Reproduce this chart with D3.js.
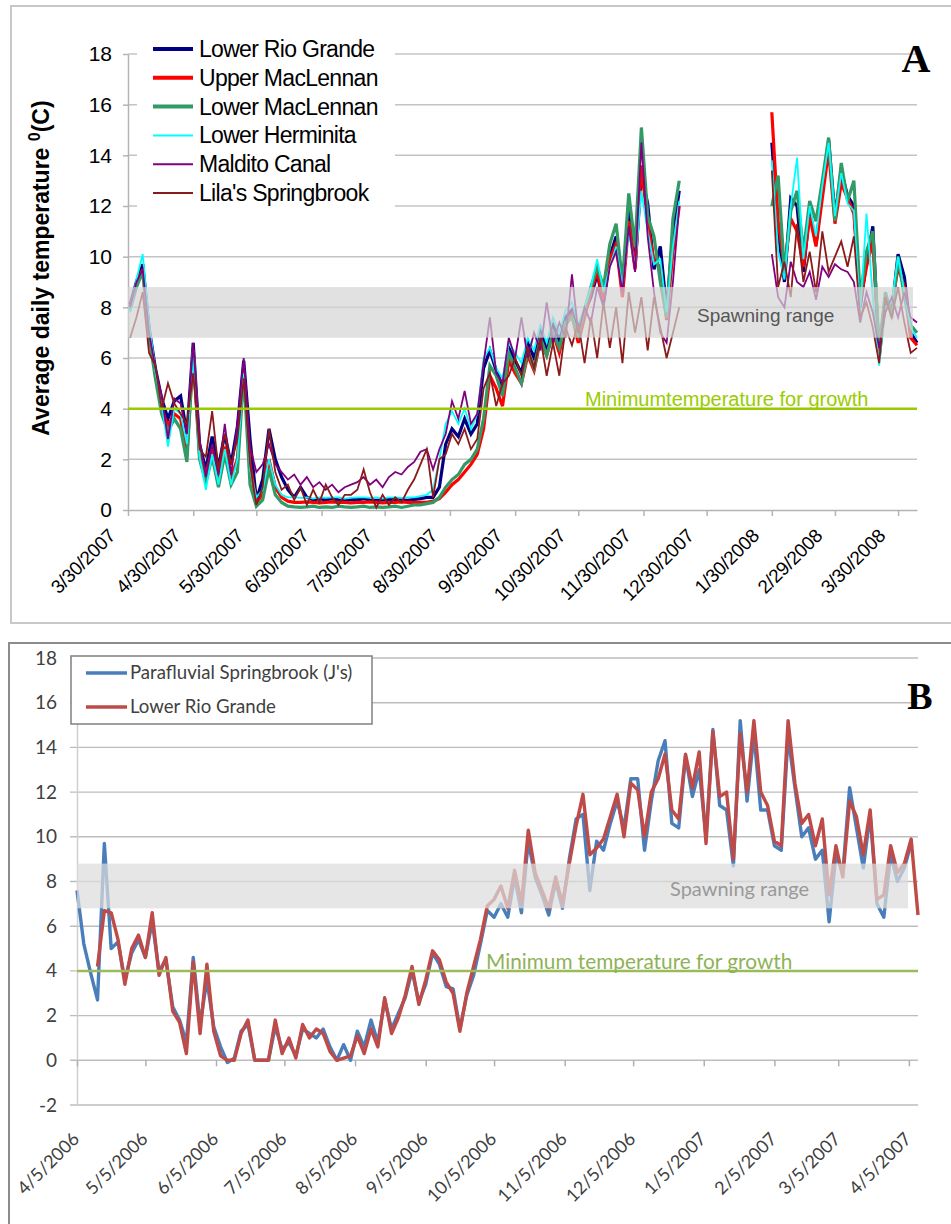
<!DOCTYPE html>
<html>
<head>
<meta charset="utf-8">
<script src="https://cdn.jsdelivr.net/npm/d3@7"></script>
<style>
  body { margin: 0; background: #fff; }
  svg { display: block; }
</style>
</head>
<body>
<svg id="chart" width="951" height="1224"></svg>
<script>
// ---- Panel A data (daily means sampled every 3 days) ----
const xLabelsA = ["3/30/2007","4/30/2007","5/30/2007","6/30/2007","7/30/2007","8/30/2007","9/30/2007",
                  "10/30/2007","11/30/2007","12/30/2007","1/30/2008","2/29/2008","3/30/2008"];
const yTicksA = [0, 2, 4, 6, 8, 10, 12, 14, 16, 18];
const namesA = ["Lower Rio Grande","Upper MacLennan","Lower MacLennan","Lower Herminita","Maldito Canal","Lila's Springbrook"];
const firstDayA1 = "3/31/2007", firstDayA2 = "1/30/2008", stepA = 3;

const lowerRioGrande1 = [8.1,9.0,9.7,7.2,5.6,4.4,3.6,4.3,4.5,3.0,
  6.6,2.6,1.6,2.9,1.7,3.0,1.8,3.3,5.9,2.8,
  0.4,1.2,3.2,2.0,1.3,0.8,0.5,0.9,0.5,0.4,
  0.45,0.4,0.45,0.4,0.38,0.42,0.4,0.45,0.4,0.38,
  0.4,0.42,0.4,0.4,0.38,0.42,0.45,0.5,0.5,0.9,
  2.6,3.2,2.9,3.6,3.0,3.4,5.6,6.3,5.5,4.9,
  6.4,5.9,5.4,6.6,6.0,7.1,6.4,7.3,6.7,7.6,
  7.9,7.0,7.8,8.4,9.3,8.2,10.0,10.8,8.6,11.8,
  9.6,13.2,12.1,9.5,10.4,7.9,10.9,12.6];
const lowerRioGrande2 = [14.5,11.0,9.0,12.3,12.0,9.4,11.8,10.5,12.6,14.6,11.6,13.4,12.4,12.0,8.0,9.8,11.2,6.0,8.3,7.8,10.1,9.2,7.0,6.6];

const upperMacLennan1 = [8.0,8.9,9.5,7.0,5.4,4.0,3.3,3.8,3.6,2.2,
  6.2,2.2,1.4,2.4,1.3,2.5,1.3,2.0,5.5,1.8,
  0.3,0.6,2.0,0.9,0.5,0.35,0.3,0.3,0.32,0.3,
  0.28,0.3,0.32,0.3,0.3,0.28,0.3,0.3,0.32,0.3,
  0.28,0.3,0.3,0.32,0.3,0.3,0.3,0.3,0.35,0.45,
  0.7,1.0,1.2,1.5,1.8,2.2,3.2,5.3,4.8,4.1,
  5.9,5.4,5.0,6.1,5.5,6.7,6.1,7.0,6.2,7.3,
  7.7,6.6,7.6,8.6,9.4,8.3,9.9,10.5,8.4,11.4,
  9.5,13.6,11.3,9.8,9.6,7.5,10.2,12.0];
const upperMacLennan2 = [15.7,11.4,9.6,11.5,11.0,9.6,11.6,10.4,12.3,14.2,11.3,12.9,12.3,11.7,8.2,9.6,10.6,6.2,8.4,8.0,9.6,8.8,6.8,6.5];

const lowerMacLennan1 = [7.9,8.8,9.4,6.9,5.2,3.8,3.1,3.6,3.2,1.9,
  6.3,2.0,1.1,2.1,0.9,2.2,1.0,1.5,5.4,1.0,
  0.15,0.4,1.6,0.6,0.3,0.15,0.12,0.1,0.12,0.15,
  0.1,0.12,0.1,0.15,0.12,0.1,0.12,0.15,0.1,0.12,
  0.1,0.12,0.15,0.1,0.15,0.2,0.2,0.25,0.3,0.5,
  0.9,1.2,1.4,1.8,2.0,2.4,3.6,5.7,5.3,4.5,
  6.2,5.6,5.0,6.3,5.6,6.8,6.1,7.0,6.4,7.4,
  7.6,6.9,7.9,8.8,9.6,8.8,10.5,11.3,9.0,12.5,
  10.4,15.1,11.6,10.8,9.0,7.6,11.5,13.0];
const lowerMacLennan2 = [12.0,13.2,9.4,11.8,12.6,10.2,12.2,11.4,13.0,14.7,11.4,13.7,12.2,13.0,8.4,10.2,11.0,6.4,8.6,7.6,10.0,8.4,7.3,7.0];

const lowerHerminita1 = [7.8,9.1,10.1,7.4,5.5,4.2,2.5,4.0,3.8,2.6,
  6.0,2.1,0.8,2.2,1.0,2.4,1.0,2.0,5.4,1.6,
  0.5,0.8,2.0,1.0,0.6,0.5,0.5,0.48,0.5,0.45,
  0.5,0.48,0.5,0.5,0.45,0.48,0.5,0.5,0.48,0.5,
  0.45,0.5,0.5,0.48,0.5,0.5,0.55,0.6,0.8,2.0,
  3.4,3.9,3.4,4.0,3.2,3.8,6.0,6.4,5.6,5.2,
  6.6,6.2,5.8,6.8,6.3,7.3,6.6,7.6,7.0,7.9,
  8.2,7.3,8.0,8.8,9.9,8.6,9.6,10.4,8.8,11.0,
  9.6,12.6,11.0,9.7,9.9,7.8,10.4,12.2];
const lowerHerminita2 = [13.8,10.2,9.1,12.0,13.9,9.9,12.0,10.8,12.8,14.5,11.6,13.3,12.1,11.8,7.8,11.7,8.4,5.7,8.0,8.2,10.0,8.6,7.2,6.8];

const malditoCanal1 = [8.0,9.0,9.5,7.0,5.6,4.5,2.8,4.4,4.2,3.0,
  6.6,2.8,1.3,2.6,1.4,3.4,1.4,3.4,6.0,2.5,
  1.5,1.8,2.6,1.8,1.5,1.2,1.4,1.0,1.3,0.9,
  1.1,0.8,1.0,0.7,0.9,1.0,1.1,1.3,1.0,1.2,
  0.9,1.3,1.5,1.4,1.7,1.9,2.3,2.4,1.6,2.4,
  3.0,4.3,3.6,4.7,3.4,3.8,5.8,7.6,5.4,5.0,
  6.8,6.0,7.6,6.0,7.0,6.3,8.2,6.6,7.4,6.8,
  9.3,7.0,8.0,7.4,8.8,8.0,9.6,10.2,8.6,11.2,
  9.4,14.5,10.8,8.6,7.0,6.6,9.0,12.0];
const malditoCanal2 = [10.1,8.4,8.0,9.8,9.0,8.8,9.4,8.3,9.6,9.2,9.7,9.5,9.4,9.0,7.4,8.6,7.8,6.4,7.8,8.4,7.6,8.6,7.6,7.4];

const lilasSpringbrook1 = [6.8,7.6,8.6,6.2,5.7,4.0,5.0,4.2,3.8,3.4,
  5.4,2.4,2.1,3.9,1.6,3.0,1.8,2.8,5.2,1.8,
  0.2,0.9,3.2,1.5,0.8,1.0,0.4,0.9,0.2,0.8,
  0.3,1.0,0.5,0.2,0.6,0.6,0.8,1.6,0.7,0.1,
  0.6,0.2,0.5,0.3,0.8,1.2,1.8,2.4,0.5,2.0,
  2.2,3.0,2.6,3.2,2.4,2.8,4.8,5.4,4.1,5.0,
  5.3,6.0,5.3,6.4,5.6,6.8,5.3,6.6,5.3,7.2,
  6.5,7.4,5.8,7.6,6.0,8.2,6.4,8.0,5.8,8.6,
  7.0,8.4,6.3,8.4,7.2,6.0,7.0,8.0];
const lilasSpringbrook2 = [13.4,8.8,9.8,8.4,11.3,9.0,10.2,8.6,11.0,9.4,10.0,10.6,9.6,10.8,7.6,8.2,7.2,5.8,8.4,7.6,8.8,7.4,6.2,6.4];

// ---- Panel B data (every 3 days from 4/5/2006) ----
const xLabelsB = ["4/5/2006","5/5/2006","6/5/2006","7/5/2006","8/5/2006","9/5/2006","10/5/2006",
                  "11/5/2006","12/5/2006","1/5/2007","2/5/2007","3/5/2007","4/5/2007"];
const yTicksB = [-2, 0, 2, 4, 6, 8, 10, 12, 14, 16, 18];
const namesB = ["Parafluvial Springbrook (J's)", "Lower Rio Grande"];
const firstDayB = "4/5/2006", stepB = 3;

const parafluvial = [7.6,5.2,3.9,2.7,9.7,5.0,5.3,3.6,4.8,5.4,
  4.6,6.2,4.0,4.5,2.4,1.8,0.8,4.6,1.6,3.6,
  1.5,0.6,-0.1,0.1,1.3,1.6,0.0,0.0,0.0,1.5,
  0.5,0.8,0.2,1.4,1.2,1.0,1.4,0.6,0.0,0.7,
  0.0,1.3,0.6,1.8,0.8,2.7,1.4,2.1,2.8,4.0,
  2.6,3.4,4.8,4.3,3.3,3.2,1.4,2.9,3.8,5.2,
  6.7,6.4,7.0,6.4,8.2,6.6,9.8,8.2,7.4,6.5,
  8.0,6.8,9.0,10.8,11.0,7.6,9.8,9.4,10.6,11.6,
  10.4,12.6,12.6,9.4,11.6,13.4,14.3,10.6,10.4,13.6,
  11.8,13.0,10.0,14.8,11.4,11.2,8.7,15.2,11.6,14.6,
  11.2,11.2,9.6,9.4,14.5,12.2,10.0,10.4,9.0,9.4,
  6.2,9.2,8.4,12.2,10.4,8.6,11.0,7.0,6.4,9.2,
  8.0,8.6,9.7,null];
const rioGrandeB = [null,null,null,4.2,6.7,6.6,5.4,3.4,5.0,5.6,
  4.6,6.6,3.8,4.6,2.2,1.7,0.3,4.4,1.2,4.3,
  1.3,0.2,0.0,0.0,1.2,1.8,0.0,0.0,0.0,1.8,
  0.3,1.0,0.1,1.6,1.0,1.4,1.2,0.4,0.0,0.1,
  0.2,1.1,0.3,1.4,0.6,2.8,1.2,1.9,2.9,4.2,
  2.5,3.6,4.9,4.5,3.5,3.0,1.3,3.0,4.2,5.4,
  6.9,7.2,7.8,6.8,8.5,7.0,10.3,8.4,7.6,6.8,
  8.2,7.0,8.8,10.5,11.9,9.2,9.5,9.9,10.9,11.9,
  10.0,12.4,12.1,10.0,12.0,12.6,13.7,11.2,10.8,13.7,
  12.2,13.8,9.7,14.7,11.8,12.0,9.0,14.6,12.0,15.2,
  12.0,11.4,9.8,9.6,15.2,12.4,10.6,11.0,9.6,10.8,
  7.4,9.6,8.2,11.6,10.9,9.2,11.2,7.2,7.4,9.6,
  8.4,8.8,9.9,6.5];

const svg = d3.select("#chart");
const parse = d3.timeParse("%m/%d/%Y");
const sansA = "'Liberation Sans', Arial, sans-serif";
const sansB = "Lato, 'Open Sans', sans-serif";

function points(values, first, step) {
  const t0 = parse(first);
  return values.map((v, i) => ({ date: d3.timeDay.offset(t0, i * step), v }));
}

// ================= Panel A =================
const gA = svg.append("g");
gA.append("rect").attr("x", 11).attr("y", 6).attr("width", 960).attr("height", 617)
  .attr("fill", "#fff").attr("stroke", "#c8c8c8").attr("stroke-width", 2);

const xA = d3.scaleTime().domain([parse("3/30/2007"), parse("4/8/2008")]).range([128, 917]);
const yA = d3.scaleLinear().domain([0, 18]).range([510, 54]);

gA.append("g").selectAll("line").data(yTicksA.filter(v => v > 0)).join("line")
  .attr("x1", 128).attr("x2", 917)
  .attr("y1", d => yA(d)).attr("y2", d => yA(d))
  .attr("stroke", "#c4c4c4").attr("stroke-width", 1.5);

const axYA = gA.append("g").attr("transform", "translate(128,0)")
  .call(d3.axisLeft(yA).tickValues(yTicksA).tickSize(5).tickSizeOuter(0).tickPadding(11));
axYA.select(".domain").attr("stroke", "#b4b4b4").attr("stroke-width", 1.5);
axYA.selectAll(".tick line").attr("stroke", "#b4b4b4").attr("stroke-width", 1.5);
axYA.selectAll("text").attr("font-family", sansA).attr("font-size", 21).attr("fill", "#000");

const axXA = gA.append("g").attr("transform", "translate(0,510)")
  .call(d3.axisBottom(xA).tickValues(xLabelsA.map(parse)).tickSize(6).tickSizeOuter(0)
    .tickFormat((d, i) => xLabelsA[i]));
axXA.select(".domain").attr("stroke", "#b4b4b4").attr("stroke-width", 1.5);
axXA.selectAll(".tick line").attr("stroke", "#b4b4b4").attr("stroke-width", 1.5);
axXA.selectAll("text")
  .attr("x", 0).attr("y", 0).attr("dy", 0)
  .attr("text-anchor", "end")
  .attr("transform", "translate(-12,27) rotate(-45)")
  .attr("font-family", sansA).attr("font-size", 19).attr("letter-spacing", -0.3).attr("fill", "#000");

const lineA = d3.line().x(d => xA(d.date)).y(d => yA(d.v));
const seriesA = [
  [lowerRioGrande1, lowerRioGrande2],
  [upperMacLennan1, upperMacLennan2],
  [lowerMacLennan1, lowerMacLennan2],
  [lowerHerminita1, lowerHerminita2],
  [malditoCanal1, malditoCanal2],
  [lilasSpringbrook1, lilasSpringbrook2]
];
const colorsA = ["#000080", "#ff0000", "#339966", "#00ffff", "#800080", "#8b1a1a"];
const widthsA = [3.2, 3.2, 3.2, 1.8, 1.8, 1.8];

const plotA = gA.append("g");
seriesA.forEach((s, k) => {
  [points(s[0], firstDayA1, stepA), points(s[1], firstDayA2, stepA)].forEach(seg => {
    plotA.append("path").datum(seg)
      .attr("d", lineA)
      .attr("fill", "none")
      .attr("stroke", colorsA[k])
      .attr("stroke-width", widthsA[k]);
  });
});

// spawning range band, drawn over the lines
gA.append("rect")
  .attr("x", 128).attr("width", 913 - 128)
  .attr("y", yA(8.8)).attr("height", yA(6.8) - yA(8.8))
  .attr("fill", "#d4d4d4").attr("opacity", 0.7);
gA.append("text").attr("x", 697).attr("y", 322)
  .attr("font-family", sansA).attr("font-size", 19).attr("fill", "#555")
  .text("Spawning range");

gA.append("line").attr("x1", 128).attr("x2", 917).attr("y1", yA(4)).attr("y2", yA(4))
  .attr("stroke", "#99cc00").attr("stroke-width", 2.5);
gA.append("text").attr("x", 585).attr("y", 406)
  .attr("font-family", sansA).attr("font-size", 20).attr("fill", "#99cc00")
  .text("Minimumtemperature for growth");

// legend A
const legA = gA.append("g");
legA.append("rect").attr("x", 137).attr("y", 36).attr("width", 258).attr("height", 176).attr("fill", "#fff");
namesA.forEach((name, i) => {
  const cy = 49 + i * 28.8;
  legA.append("line").attr("x1", 153).attr("x2", 193).attr("y1", cy).attr("y2", cy)
    .attr("stroke", colorsA[i]).attr("stroke-width", i < 3 ? 4 : 2);
  legA.append("text").attr("x", 199).attr("y", cy + 8)
    .attr("font-family", sansA).attr("font-size", 23).attr("fill", "#000")
    .attr("letter-spacing", -0.7)
    .text(name);
});

// y title A
const titleA = gA.append("text")
  .attr("transform", "translate(49,268) rotate(-90)")
  .attr("text-anchor", "middle")
  .attr("font-family", sansA).attr("font-size", 23).attr("font-weight", "bold").attr("fill", "#000");
titleA.append("tspan").text("Average daily temperature ");
titleA.append("tspan").attr("font-size", 16).attr("dy", -9).text("0");
titleA.append("tspan").attr("dy", 9).text("(C)");

gA.append("text").attr("x", 916).attr("y", 72).attr("text-anchor", "middle")
  .attr("font-family", "'Liberation Serif', 'Times New Roman', serif")
  .attr("font-weight", "bold").attr("font-size", 40).text("A");

// ================= Panel B =================
const gB = svg.append("g");
gB.append("rect").attr("x", 9).attr("y", 643).attr("width", 960).attr("height", 640)
  .attr("fill", "#fff").attr("stroke", "#8c8c8c").attr("stroke-width", 2);

const xB = d3.scaleTime().domain([parse("4/5/2006"), parse("4/9/2007")]).range([77, 918]);
const yB = d3.scaleLinear().domain([-2, 18]).range([1105, 658]);

gB.append("g").selectAll("line").data(yTicksB).join("line")
  .attr("x1", 70).attr("x2", 918)
  .attr("y1", d => yB(d)).attr("y2", d => yB(d))
  .attr("stroke", "#bdbdbd").attr("stroke-width", 1.4);

const axYB = gB.append("g").attr("transform", "translate(77,0)")
  .call(d3.axisLeft(yB).tickValues(yTicksB).tickSize(0).tickSizeOuter(0).tickPadding(20)
    .tickFormat(d => d < 0 ? "-" + Math.abs(d) : d));
axYB.select(".domain").attr("stroke", "#cfcfcf").attr("stroke-width", 1.5);
axYB.selectAll("text").attr("font-family", sansB).attr("font-size", 19).attr("fill", "#404040");

const axXB = gB.append("g").attr("transform", `translate(0,${yB(0)})`)
  .call(d3.axisBottom(xB).tickValues(xLabelsB.map(parse)).tickSize(6).tickSizeOuter(0).tickFormat(""));
axXB.select(".domain").remove();
axXB.selectAll(".tick line").attr("stroke", "#b0b0b0").attr("stroke-width", 1.5);

const labXB = gB.append("g").attr("transform", `translate(0,${yB(-2)})`)
  .call(d3.axisBottom(xB).tickValues(xLabelsB.map(parse)).tickSize(0).tickFormat((d, i) => xLabelsB[i]));
labXB.select(".domain").remove();
labXB.selectAll("text")
  .attr("x", 0).attr("y", 0).attr("dy", 0)
  .attr("text-anchor", "end")
  .attr("transform", "translate(3,35) rotate(-45)")
  .attr("font-family", sansB).attr("font-size", 18).attr("fill", "#404040");

const lineB = d3.line().defined(d => d.v != null).x(d => xB(d.date)).y(d => yB(d.v));
const colorsB = ["#4a7ebb", "#be4b48"];
[parafluvial, rioGrandeB].forEach((s, k) => {
  gB.append("path").datum(points(s, firstDayB, stepB))
    .attr("d", lineB)
    .attr("fill", "none")
    .attr("stroke", colorsB[k])
    .attr("stroke-width", 3.4)
    .attr("stroke-linejoin", "round");
});

gB.append("rect")
  .attr("x", 77).attr("width", 908 - 77)
  .attr("y", yB(8.8)).attr("height", yB(6.8) - yB(8.8))
  .attr("fill", "#dcdcdc").attr("opacity", 0.72);
gB.append("text").attr("x", 670).attr("y", 896)
  .attr("font-family", sansB).attr("font-size", 20).attr("fill", "#999")
  .text("Spawning range");

gB.append("line").attr("x1", 77).attr("x2", 918).attr("y1", yB(4)).attr("y2", yB(4))
  .attr("stroke", "#9bbb59").attr("stroke-width", 2.5);
gB.append("text").attr("x", 486).attr("y", 969)
  .attr("font-family", sansB).attr("font-size", 20.8).attr("fill", "#8fb257")
  .text("Minimum temperature for growth");

// legend B
const legB = gB.append("g");
legB.append("rect").attr("x", 71).attr("y", 656).attr("width", 301).attr("height", 68)
  .attr("fill", "#fff").attr("stroke", "#808080").attr("stroke-width", 1.5);
namesB.forEach((name, i) => {
  const cy = 673 + i * 34;
  legB.append("line").attr("x1", 86).attr("x2", 127).attr("y1", cy).attr("y2", cy)
    .attr("stroke", colorsB[i]).attr("stroke-width", 3.5);
  legB.append("text").attr("x", 130).attr("y", cy + 6)
    .attr("font-family", sansB).attr("font-size", 18.6).attr("fill", "#404040")
    .text(name);
});

gB.append("text").attr("x", 920).attr("y", 709).attr("text-anchor", "middle")
  .attr("font-family", "'Liberation Serif', 'Times New Roman', serif")
  .attr("font-weight", "bold").attr("font-size", 38).text("B");
</script>
</body>
</html>
